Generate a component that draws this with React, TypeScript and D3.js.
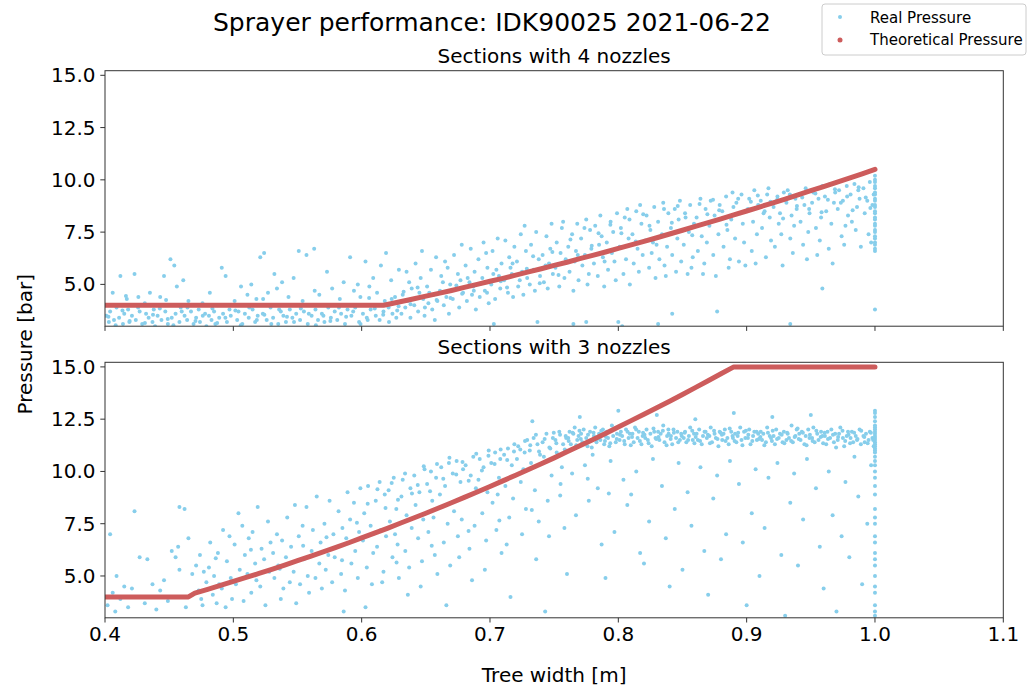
import React from 'react';
import * as d3 from 'd3';

// Real pressure readings, sections with 4 nozzles (tree width [m], pressure [bar])
const realTop: [number, number][] = [
  [0.401,3.5],[0.403,3.2],[0.404,3.7],[0.406,4.6],[0.407,3.3],[0.409,3.9],
  [0.411,3.4],[0.412,5.4],[0.414,3.1],[0.415,3.6],[0.417,4.3],[0.418,3.8],[0.419,3.2],
  [0.421,3.5],[0.423,5.5],[0.424,3.3],[0.426,4.4],[0.427,3.7],[0.429,3.1],
  [0.431,4.1],[0.432,3.6],[0.434,3.4],[0.435,4.6],[0.437,3.2],[0.438,3.8],[0.439,3.0],
  [0.441,3.5],[0.443,4.4],[0.444,3.3],[0.446,5.4],[0.447,3.7],[0.449,3.1],
  [0.451,6.2],[0.452,3.4],[0.454,5.9],[0.455,3.6],[0.456,4.9],[0.458,3.2],[0.459,3.9],
  [0.461,5.2],[0.462,3.5],[0.464,3.3],[0.465,4.2],[0.467,3.7],[0.469,3.1],
  [0.471,3.4],[0.473,3.8],[0.474,3.2],[0.476,4.1],[0.478,3.6],[0.479,3.0],
  [0.481,3.5],[0.483,3.3],[0.485,3.7],[0.486,3.1],[0.488,4.0],[0.489,3.4],
  [0.491,5.8],[0.492,3.6],[0.494,5.4],[0.495,3.2],[0.497,3.8],[0.498,3.5],
  [0.501,4.2],[0.503,3.3],[0.504,3.7],[0.506,4.9],[0.507,3.1],[0.509,3.6],
  [0.511,4.5],[0.512,3.4],[0.514,5.0],[0.515,3.8],[0.517,3.2],[0.518,4.3],[0.519,3.5],
  [0.521,6.3],[0.523,3.6],[0.524,6.5],[0.526,3.3],[0.527,4.6],[0.529,3.9],
  [0.531,3.4],[0.532,5.5],[0.534,4.8],[0.535,3.1],[0.537,3.7],[0.538,5.1],[0.539,3.5],
  [0.541,3.2],[0.543,4.4],[0.544,3.8],[0.546,3.4],[0.547,5.3],[0.549,3.6],
  [0.551,6.6],[0.552,3.3],[0.554,4.2],[0.555,3.7],[0.557,6.4],[0.558,3.1],[0.559,4.0],
  [0.561,3.5],[0.563,6.7],[0.564,3.8],[0.566,3.3],[0.567,4.5],[0.569,3.6],
  [0.571,3.2],[0.573,5.6],[0.574,3.9],[0.576,3.4],[0.577,4.8],[0.579,3.7],
  [0.581,3.3],[0.583,4.3],[0.584,3.6],[0.586,5.1],[0.587,3.1],[0.589,3.8],
  [0.591,6.3],[0.592,3.5],[0.594,4.7],[0.595,3.9],[0.597,5.0],[0.598,3.2],[0.599,4.4],
  [0.601,3.6],[0.603,6.1],[0.604,3.4],[0.606,4.9],[0.607,3.8],[0.609,5.3],
  [0.611,3.5],[0.612,4.6],[0.614,3.3],[0.615,5.9],[0.617,3.7],[0.618,4.2],[0.619,6.5],
  [0.621,3.9],[0.623,5.2],[0.624,3.6],[0.626,4.4],[0.627,3.4],[0.629,5.7],
  [0.631,3.6],[0.632,4.5],[0.634,3.9],[0.635,5.6],[0.636,4.2],[0.638,3.4],[0.639,4.8],[0.637,5.1],
  [0.641,4.0],[0.642,6.0],[0.644,3.7],[0.645,4.6],[0.646,5.3],[0.648,4.3],[0.649,3.5],[0.647,6.6],
  [0.651,4.9],[0.652,4.1],[0.654,5.7],[0.655,3.8],[0.656,4.5],[0.658,6.3],[0.659,4.2],[0.657,3.3],
  [0.661,4.7],[0.662,5.4],[0.664,4.0],[0.665,6.1],[0.666,4.4],[0.668,3.6],[0.669,5.0],[0.667,5.8],
  [0.671,4.3],[0.672,6.4],[0.674,4.8],[0.675,5.5],[0.676,3.9],[0.678,6.9],[0.679,4.6],[0.677,5.2],
  [0.681,5.9],[0.682,4.2],[0.684,5.1],[0.685,6.7],[0.686,4.5],[0.688,5.6],[0.689,3.8],[0.687,4.9],
  [0.691,6.2],[0.692,4.4],[0.694,5.3],[0.695,7.0],[0.696,4.7],[0.698,5.8],[0.699,4.1],[0.697,6.5],
  [0.701,5.0],[0.702,6.6],[0.704,4.3],[0.705,5.7],[0.706,7.2],[0.708,4.8],[0.709,6.0],[0.707,5.4],[0.703,3.1],
  [0.711,5.2],[0.712,7.1],[0.714,4.6],[0.715,6.3],[0.716,5.8],[0.718,4.4],[0.719,6.8],[0.717,5.5],
  [0.721,6.1],[0.722,4.9],[0.724,7.4],[0.725,5.6],[0.726,4.5],[0.728,6.6],[0.729,5.3],[0.727,7.8],
  [0.731,5.0],[0.732,6.9],[0.734,5.7],[0.735,4.7],[0.736,7.5],[0.738,6.2],[0.739,5.4],[0.737,3.2],
  [0.741,6.4],[0.742,5.1],[0.744,7.3],[0.745,4.8],[0.746,6.0],[0.748,7.9],[0.749,5.5],[0.747,6.7],
  [0.751,5.8],[0.752,7.0],[0.754,4.9],[0.755,6.5],[0.756,7.7],[0.758,5.3],[0.759,6.2],[0.757,8.0],
  [0.761,6.8],[0.762,5.6],[0.764,7.4],[0.765,4.7],[0.766,6.1],[0.768,7.9],[0.769,5.2],[0.767,6.6],
  [0.771,7.2],[0.772,5.9],[0.774,6.4],[0.775,8.1],[0.776,5.0],[0.778,7.6],[0.779,6.7],[0.777,5.5],
  [0.781,6.0],[0.782,7.8],[0.784,5.4],[0.785,6.9],[0.786,8.3],[0.788,6.3],[0.789,4.9],[0.787,7.3],
  [0.791,7.0],[0.792,5.7],[0.794,8.0],[0.795,6.5],[0.796,7.5],[0.798,5.2],[0.799,8.4],[0.797,6.1],
  [0.801,6.8],[0.802,7.7],[0.804,5.5],[0.805,8.2],[0.806,6.2],[0.808,7.2],[0.809,5.0],[0.807,8.6],[0.803,3.0],
  [0.811,7.4],[0.812,6.0],[0.814,8.5],[0.815,6.7],[0.816,5.6],[0.818,7.9],[0.819,6.4],[0.817,8.8],
  [0.821,7.1],[0.822,8.3],[0.824,5.8],[0.825,7.6],[0.826,6.5],[0.828,8.7],[0.829,5.3],[0.827,7.0],
  [0.831,8.0],[0.832,6.2],[0.834,7.4],[0.835,8.9],[0.836,5.9],[0.838,6.8],[0.839,8.4],[0.837,5.4],
  [0.841,7.7],[0.842,6.4],[0.844,8.6],[0.845,5.6],[0.846,7.2],[0.848,9.0],[0.849,6.1],[0.847,8.1],
  [0.851,6.9],[0.852,8.4],[0.854,5.5],[0.855,7.5],[0.856,8.8],[0.858,6.3],[0.859,7.9],[0.857,5.8],
  [0.861,8.2],[0.862,6.6],[0.864,9.1],[0.865,7.3],[0.866,5.5],[0.868,8.6],[0.869,7.0],[0.867,6.0],
  [0.871,7.8],[0.872,9.0],[0.874,6.4],[0.875,8.3],[0.876,5.4],[0.878,7.4],[0.879,8.8],[0.877,3.7],
  [0.881,8.5],[0.882,6.8],[0.884,9.2],[0.885,7.6],[0.886,5.8],[0.888,8.1],[0.889,9.4],[0.887,6.2],
  [0.891,7.2],[0.892,8.9],[0.894,6.1],[0.895,8.4],[0.896,9.3],[0.898,7.0],[0.899,5.9],[0.897,7.9],
  [0.901,8.6],[0.902,9.1],[0.904,6.6],[0.905,8.0],[0.906,9.5],[0.908,7.4],[0.909,8.8],[0.907,6.0],
  [0.911,9.0],[0.912,7.7],[0.914,8.5],[0.915,6.3],[0.916,9.3],[0.918,8.2],[0.919,7.1],[0.917,9.6],
  [0.921,8.7],[0.922,6.8],[0.924,9.2],[0.925,7.9],[0.926,8.4],[0.928,5.9],[0.929,9.4],[0.927,7.4],
  [0.931,8.9],[0.932,9.5],[0.934,7.2],[0.935,8.3],[0.936,6.5],[0.938,9.1],[0.939,8.6],[0.937,7.8],
  [0.941,9.3],[0.942,8.0],[0.944,6.9],[0.945,8.8],[0.946,9.6],[0.948,7.5],[0.949,8.4],[0.947,6.2],
  [0.951,8.9],[0.952,9.4],[0.954,7.7],[0.955,6.4],[0.956,9.1],[0.958,8.2],[0.959,9.7],[0.957,7.1],
  [0.961,9.2],[0.962,8.5],[0.964,6.7],[0.965,9.8],[0.966,7.9],[0.968,8.9],[0.969,9.4],[0.967,6.0],
  [0.971,8.6],[0.972,9.5],[0.974,7.3],[0.975,9.0],[0.976,6.9],[0.978,9.7],[0.979,8.3],[0.977,7.8],
  [0.981,9.3],[0.982,8.0],[0.984,9.8],[0.985,7.6],[0.986,8.7],[0.988,9.1],[0.989,6.8],[0.987,9.5],
  [0.991,9.6],[0.992,8.4],[0.994,9.0],[0.995,7.4],[0.996,9.9],[0.998,8.8],[0.999,9.3],[0.997,7.0],
  [0.765,3.1],[0.775,3.2],[0.800,3.2],[0.831,3.1],[0.842,3.6],[0.934,3.1],[0.959,4.8],
  [1.0,3.8],[1.0,6.6],[1.0,6.7],[1.0,6.9],[1.0,7.0],[1.0,7.2],[1.0,7.3],[1.0,7.5],[1.0,7.6],
  [1.0,7.8],[1.0,7.9],[1.0,8.1],[1.0,8.2],[1.0,8.4],[1.0,8.5],[1.0,8.7],[1.0,8.8],[1.0,9.0],
  [1.0,9.1],[1.0,9.3],[1.0,9.4],[1.0,9.6],[1.0,9.7],[1.0,9.9],[1.0,10.0],[1.0,10.2],
];

// more readings where the 4-nozzle cloud is densest
const realTopExtra: [number, number][] = [
  [0.4027,3.45],[0.4083,3.05],[0.4136,3.75],[0.4192,3.25],[0.4258,3.9],[0.4311,3.15],[0.4374,3.55],
  [0.4427,3.85],[0.4489,3.35],[0.4533,3.05],[0.4598,3.7],[0.4643,3.9],[0.4705,3.25],[0.4762,3.5],
  [0.4837,3.85],[0.4874,3.15],[0.4938,3.4],[0.5016,3.75],[0.5058,3.05],[0.5124,3.9],[0.5183,3.3],
  [0.5242,3.55],[0.5296,3.1],[0.5357,3.8],[0.5418,3.45],[0.5473,3.2],[0.5526,3.85],[0.5588,3.6],
  [0.5643,3.05],[0.5702,3.5],[0.5756,3.25],[0.5823,3.9],[0.5879,3.45],[0.5934,3.7],[0.5991,3.1],
  [0.6047,3.3],[0.6102,3.85],[0.6168,3.55],[0.6213,3.2],[0.6277,3.75],
  [0.4163,4.45],[0.4476,4.25],[0.4817,4.6],[0.5232,4.3],[0.5634,4.7],[0.6058,4.35],
  [0.6234,4.3],[0.6288,3.95],[0.6327,4.65],[0.6381,4.05],[0.6436,4.85],[0.6493,3.9],[0.6527,4.6],
  [0.6584,4.25],[0.6633,5.1],[0.6692,4.35],[0.6738,4.95],[0.6783,4.55],[0.6826,5.3],[0.6874,4.7],
  [0.6933,5.05],[0.6977,4.6],[0.7026,5.5],[0.7084,5.15],[0.7133,4.85],[0.7176,6.0],[0.7232,5.2],
  [0.7287,5.75],[0.7336,6.35],[0.7388,5.05],[0.7433,5.9],[0.7486,6.55],[0.7534,5.45],
  [0.7627,7.15],[0.7684,6.4],[0.7736,7.7],[0.7793,6.85],[0.7846,7.45],[0.7893,6.1],[0.7938,7.85],
  [0.8024,7.45],[0.8087,8.1],[0.8136,7.05],[0.8194,8.35],[0.8243,7.8],[0.8298,6.9],[0.8356,8.6],
  [0.8417,7.95],[0.8463,8.75],[0.8524,8.2],[0.8576,7.35],[0.8633,8.85],[0.8694,8.35],[0.8738,9.05],
  [0.8786,8.55],[0.8843,7.85],[0.8897,8.7],[0.8934,9.1],[0.9033,8.95],[0.9087,9.25],[0.9132,8.4],
  [0.9186,8.95],[0.9238,9.05],[0.9284,8.15],[0.9337,9.3],[0.9392,8.75],[0.9433,9.15],[0.9487,8.6],
  [0.9536,9.35],[0.9584,8.45],[0.9633,9.05],[0.9688,9.55],[0.9734,8.9],[0.9783,9.2],[0.9826,8.55],
  [0.9873,9.65],[0.9928,9.15],[0.9964,8.65],
];

// Real pressure readings, sections with 3 nozzles
const realBottom: [number, number][] = [
  [0.402,3.6],[0.404,7.0],[0.406,4.2],[0.408,3.3],[0.409,5.0],[0.412,3.9],[0.415,4.5],[0.418,3.5],
  [0.421,4.4],[0.423,8.1],[0.427,5.9],[0.431,3.7],[0.433,5.8],[0.437,4.6],[0.440,3.4],[0.443,4.3],
  [0.446,4.8],[0.449,3.8],[0.452,6.2],[0.455,5.9],[0.457,6.4],[0.458,5.3],[0.458,8.3],[0.462,8.2],
  [0.463,3.5],[0.465,6.8],[0.468,5.1],
  [0.471,5.5],[0.473,4.3],[0.474,6.0],[0.476,3.6],[0.477,5.2],[0.479,4.7],[0.475,3.9],
  [0.481,5.4],[0.482,6.6],[0.484,4.1],[0.485,5.0],[0.487,3.7],[0.488,6.1],[0.489,4.6],
  [0.491,4.4],[0.492,7.2],[0.494,3.5],[0.495,5.7],[0.497,6.9],[0.498,4.9],[0.499,3.9],
  [0.501,6.5],[0.502,4.6],[0.504,8.0],[0.505,5.3],[0.507,7.4],[0.508,3.8],[0.509,6.0],
  [0.511,5.1],[0.512,6.8],[0.514,4.2],[0.515,7.1],[0.517,5.6],[0.518,4.8],[0.519,8.3],
  [0.521,4.5],[0.522,6.3],[0.524,5.8],[0.525,3.6],[0.527,7.6],[0.528,5.2],[0.529,6.6],
  [0.531,6.1],[0.532,4.9],[0.534,7.0],[0.535,5.5],[0.537,3.9],[0.538,6.7],[0.539,4.4],
  [0.541,5.9],[0.542,7.8],[0.544,4.7],[0.545,6.4],[0.547,5.2],[0.548,8.4],[0.549,3.7],
  [0.551,6.9],[0.552,4.6],[0.554,7.4],[0.555,5.8],[0.557,8.3],[0.558,5.0],[0.559,4.2],
  [0.561,6.2],[0.562,7.2],[0.564,4.9],[0.565,8.8],[0.567,5.6],[0.568,6.6],[0.569,4.4],
  [0.571,7.5],[0.572,5.3],[0.574,6.0],[0.575,8.6],[0.577,4.7],[0.578,7.0],[0.579,5.9],
  [0.581,6.4],[0.582,8.1],[0.584,5.1],[0.585,7.3],[0.587,4.3],[0.588,6.8],[0.589,9.0],[0.586,3.3],
  [0.591,7.7],[0.592,5.6],[0.594,8.5],[0.595,6.2],[0.597,4.9],[0.598,7.1],[0.599,9.2],
  [0.601,6.7],[0.602,8.0],[0.604,5.4],[0.605,9.3],[0.607,7.4],[0.608,4.6],[0.609,6.1],[0.603,3.5],
  [0.611,8.6],[0.612,6.4],[0.614,9.5],[0.615,7.2],[0.617,5.2],[0.618,8.9],[0.619,6.9],[0.616,4.7],
  [0.621,9.1],[0.622,7.6],[0.624,5.9],[0.625,9.7],[0.627,8.2],[0.628,6.5],[0.629,4.9],[0.626,7.0],
  [0.631,8.8],[0.632,9.6],[0.634,6.2],[0.635,7.9],[0.637,5.4],[0.638,9.2],[0.639,7.3],[0.636,4.1],
  [0.641,9.8],[0.642,8.4],[0.644,6.8],[0.645,9.0],[0.647,5.7],[0.648,7.7],[0.649,10.1],[0.646,4.5],
  [0.651,9.4],[0.652,7.1],[0.654,10.0],[0.655,8.6],[0.657,6.0],[0.658,9.7],[0.659,5.1],[0.656,7.8],
  [0.661,8.9],[0.662,10.2],[0.664,6.6],[0.665,9.3],[0.667,7.5],[0.668,10.4],[0.669,5.5],[0.666,3.6],
  [0.671,9.9],[0.672,8.1],[0.674,10.5],[0.675,6.9],[0.677,9.5],[0.678,7.7],[0.679,10.1],[0.676,5.9],
  [0.681,10.3],[0.682,8.8],[0.684,6.3],[0.685,9.8],[0.687,10.7],[0.688,7.4],[0.689,9.2],[0.686,4.8],
  [0.691,9.6],[0.692,10.6],[0.694,8.0],[0.695,10.2],[0.697,6.7],[0.698,9.0],[0.699,11.0],[0.696,5.3],
  [0.701,10.4],[0.702,8.5],[0.704,10.9],[0.705,7.2],[0.707,9.7],[0.708,10.6],[0.709,6.1],[0.706,8.9],
  [0.711,10.8],[0.712,9.3],[0.714,11.1],[0.715,7.8],[0.717,10.3],[0.718,8.7],[0.719,11.3],[0.716,4.0],[0.713,6.5],
  [0.721,10.6],[0.722,11.2],[0.724,9.5],[0.725,7.0],[0.727,10.9],[0.728,8.2],[0.729,11.5],[0.726,10.1],
  [0.731,11.0],[0.732,10.4],[0.734,11.6],[0.735,9.1],[0.737,11.3],[0.738,7.6],[0.739,10.8],[0.736,5.8],[0.733,12.4],
  [0.741,11.4],[0.742,10.7],[0.744,11.8],[0.745,8.6],[0.747,11.1],[0.748,9.8],[0.749,11.6],[0.746,6.9],[0.743,3.3],
  [0.751,11.5],[0.752,10.9],[0.754,11.9],[0.755,9.4],[0.757,11.3],[0.758,7.3],[0.759,11.7],[0.756,10.2],
  [0.761,11.6],[0.762,11.9],[0.763,11.3],[0.765,11.8],[0.766,12.1],[0.768,11.5],[0.769,11.7],[0.764,9.9],[0.767,7.9],[0.760,5.1],
  [0.771,11.8],[0.772,11.4],[0.773,12.0],[0.775,11.6],[0.776,11.2],[0.778,11.9],[0.779,11.5],[0.774,10.3],[0.777,8.6],[0.770,12.6],
  [0.781,11.7],[0.782,12.1],[0.783,11.4],[0.785,11.8],[0.786,11.5],[0.788,12.0],[0.789,11.3],[0.784,9.2],[0.787,6.5],[0.780,10.8],
  [0.791,11.9],[0.792,11.6],[0.793,11.2],[0.795,12.2],[0.796,11.7],[0.798,11.4],[0.799,11.8],[0.794,10.5],[0.797,7.1],[0.790,4.9],
  [0.801,11.5],[0.802,11.9],[0.803,11.7],[0.805,11.3],[0.806,12.0],[0.808,11.6],[0.809,11.8],[0.804,9.6],[0.807,8.4],[0.800,12.9],
  [0.811,11.8],[0.812,11.4],[0.813,12.1],[0.815,11.6],[0.816,11.9],[0.818,11.3],[0.819,11.7],[0.814,10.0],[0.817,6.1],[0.810,8.9],
  [0.821,11.6],[0.822,12.0],[0.823,11.5],[0.825,11.8],[0.826,11.2],[0.828,11.9],[0.829,11.6],[0.824,7.6],[0.827,10.6],[0.820,5.6],
  [0.831,11.9],[0.832,11.5],[0.833,11.8],[0.835,12.2],[0.836,11.4],[0.838,11.7],[0.839,12.0],[0.834,9.3],[0.837,6.8],[0.830,12.7],
  [0.841,11.7],[0.842,11.3],[0.843,12.0],[0.845,11.6],[0.846,11.9],[0.848,11.5],[0.849,11.8],[0.844,8.2],[0.847,10.4],[0.840,4.5],
  [0.851,11.6],[0.852,11.9],[0.853,11.4],[0.855,11.7],[0.856,12.1],[0.858,11.5],[0.859,11.8],[0.854,9.0],[0.857,7.4],[0.850,5.3],
  [0.861,11.8],[0.862,11.5],[0.863,12.0],[0.865,11.3],[0.866,11.7],[0.868,11.9],[0.869,11.6],[0.864,10.2],[0.867,6.2],[0.860,12.5],
  [0.871,11.7],[0.872,12.1],[0.873,11.4],[0.875,11.8],[0.876,11.6],[0.878,11.2],[0.879,11.9],[0.874,8.7],[0.877,9.8],[0.870,4.1],
  [0.881,11.5],[0.882,11.8],[0.883,12.0],[0.885,11.6],[0.886,11.3],[0.888,11.9],[0.889,11.7],[0.884,7.0],[0.887,10.5],[0.880,5.8],
  [0.891,11.8],[0.892,11.4],[0.893,11.7],[0.895,12.1],[0.896,11.5],[0.898,11.9],[0.899,11.6],[0.894,9.4],[0.897,6.6],[0.890,12.8],
  [0.901,11.6],[0.902,12.0],[0.903,11.3],[0.905,11.7],[0.906,11.9],[0.908,11.5],[0.909,11.8],[0.904,8.0],[0.907,10.1],[0.900,3.6],
  [0.911,11.9],[0.912,11.5],[0.913,11.8],[0.915,11.4],[0.916,12.1],[0.918,11.7],[0.919,11.6],[0.914,7.3],[0.917,9.7],[0.910,5.0],
  [0.921,11.7],[0.922,11.3],[0.923,12.0],[0.925,11.6],[0.926,11.8],[0.928,11.4],[0.929,11.9],[0.924,10.4],[0.927,6.0],[0.920,12.6],
  [0.931,11.5],[0.932,11.8],[0.933,11.6],[0.935,12.2],[0.936,11.4],[0.938,11.7],[0.939,12.0],[0.934,8.5],[0.937,9.9],[0.930,3.1],
  [0.941,11.8],[0.942,11.5],[0.943,11.9],[0.945,11.3],[0.946,11.7],[0.948,12.0],[0.949,11.6],[0.944,7.7],[0.947,10.6],[0.940,5.5],
  [0.951,11.6],[0.952,12.1],[0.953,11.4],[0.955,11.8],[0.956,11.5],[0.958,11.9],[0.959,11.7],[0.954,9.2],[0.957,6.4],[0.950,12.7],
  [0.961,11.7],[0.962,11.3],[0.963,11.9],[0.965,11.6],[0.966,12.0],[0.968,11.4],[0.969,11.8],[0.964,10.0],[0.967,7.9],[0.960,4.4],
  [0.971,11.5],[0.972,11.8],[0.973,12.1],[0.975,11.6],[0.976,11.2],[0.978,11.7],[0.979,11.9],[0.974,6.9],[0.977,9.5],[0.970,3.3],
  [0.981,11.6],[0.982,11.9],[0.983,11.4],[0.985,11.7],[0.986,11.5],[0.988,12.0],[0.989,11.3],[0.984,10.7],[0.987,8.8],[0.980,5.9],
  [0.991,11.7],[0.992,11.4],[0.993,11.8],[0.995,11.5],[0.996,11.9],[0.998,11.6],[0.999,11.2],[0.994,7.5],[0.997,10.3],[0.990,4.6],
  [1.0,3.1],[1.0,3.3],[1.0,3.6],[1.0,4.2],[1.0,4.5],[1.0,5.0],[1.0,5.5],[1.0,5.8],[1.0,6.1],[1.0,6.6],
  [1.0,6.9],[1.0,7.5],[1.0,7.8],[1.0,8.2],[1.0,8.9],[1.0,9.3],[1.0,9.7],[1.0,10.0],[1.0,10.3],[1.0,10.5],
  [1.0,10.7],[1.0,10.9],[1.0,11.0],[1.0,11.1],[1.0,11.2],[1.0,11.3],[1.0,11.4],[1.0,11.5],[1.0,11.6],[1.0,11.7],
  [1.0,11.8],[1.0,11.9],[1.0,12.0],[1.0,12.1],[1.0,12.2],[1.0,12.4],[1.0,12.6],[1.0,12.8],[1.0,12.9],
];

// more readings in the 3-nozzle plateau band and the rising edge
const realBottomExtra: [number, number][] = [
  [0.7236,11.05],[0.7273,11.45],[0.7314,11.25],[0.7358,11.75],[0.7382,10.95],
  [0.7426,11.55],[0.7463,11.15],[0.7497,11.85],[0.7517,11.35],[0.7546,11.75],[0.7583,11.05],[0.7594,11.6],
  [0.7613,11.45],[0.7644,11.85],[0.7672,11.25],[0.7697,11.95],[0.7708,11.55],[0.7738,11.35],[0.7764,11.75],[0.7793,11.15],
  [0.7807,11.85],[0.7834,11.55],[0.7867,11.95],[0.7896,11.45],[0.7904,11.65],[0.7937,11.35],[0.7973,12.05],[0.7988,11.55],
  [0.8013,11.75],[0.8046,11.45],[0.8072,11.9],[0.8097,11.25],[0.8107,11.65],[0.8139,12.0],[0.8168,11.45],[0.8193,11.85],
  [0.8204,11.75],[0.8236,11.35],[0.8274,12.05],[0.8296,11.55],[0.8313,11.65],[0.8347,11.95],[0.8376,11.25],[0.8392,11.8],
  [0.8408,11.55],[0.8433,11.85],[0.8467,11.4],[0.8494,11.7],[0.8517,11.85],[0.8544,11.5],[0.8576,11.95],[0.8593,11.35],
  [0.8603,11.65],[0.8637,11.45],[0.8672,11.9],[0.8698,11.75],[0.8714,11.35],[0.8746,11.95],[0.8773,11.55],[0.8797,11.85],
  [0.8807,11.75],[0.8836,11.45],[0.8868,12.05],[0.8893,11.6],[0.8906,11.45],[0.8934,11.85],[0.8967,11.25],[0.8994,11.95],
  [0.9013,11.75],[0.9044,11.45],[0.9078,11.9],[0.9096,11.55],[0.9107,11.65],[0.9138,11.25],[0.9166,11.85],[0.9197,11.45],
  [0.9203,11.95],[0.9237,11.55],[0.9273,11.75],[0.9294,11.35],[0.9316,11.85],[0.9347,11.45],[0.9374,11.65],[0.9397,12.05],
  [0.9406,11.55],[0.9438,11.85],[0.9467,11.25],[0.9493,11.75],[0.9514,11.45],[0.9543,11.95],[0.9577,11.65],[0.9596,11.35],
  [0.9608,11.85],[0.9634,11.55],[0.9673,11.75],[0.9697,11.15],[0.9713,11.65],[0.9747,11.95],[0.9768,11.45],[0.9794,11.75],
  [0.9806,11.35],[0.9838,11.85],[0.9864,11.55],[0.9893,11.95],[0.9917,11.65],[0.9943,11.35],[0.9968,11.85],[0.9986,11.5],
  [0.6047,8.45],[0.6123,9.15],[0.6186,8.25],[0.6234,9.45],[0.6283,8.65],[0.6338,9.9],[0.6392,8.95],[0.6437,9.35],
  [0.6484,10.25],[0.6533,9.05],[0.6587,10.35],[0.6636,9.65],[0.6684,10.65],[0.6737,9.85],[0.6786,10.45],[0.6834,9.55],
  [0.6893,10.85],[0.6937,10.05],[0.6988,10.75],[0.7036,10.35],[0.7083,11.05],[0.7134,10.55],[0.7187,10.95],
  [0.6272,5.65],[0.6546,6.45],[0.6833,7.15],[0.7073,7.65],[0.7326,8.15],[0.7547,8.85],[0.7762,9.65],[0.7926,8.95],
  [0.4863,5.85],[0.5137,6.25],[0.5362,5.35],[0.5544,6.45],[0.5726,6.85],[0.5847,5.75],[0.5963,7.55],
];

// Theoretical pressure
const theoTop: [number, number][] = [
  [0.40,4.0],[0.45,4.0],[0.50,4.0],[0.55,4.0],[0.60,4.0],[0.617,4.0],
  [0.62,4.04],[0.63,4.17],[0.64,4.30],[0.65,4.44],[0.66,4.57],[0.67,4.71],[0.68,4.86],[0.69,5.00],
  [0.70,5.15],[0.71,5.29],[0.72,5.44],[0.73,5.60],[0.74,5.75],[0.75,5.91],[0.76,6.06],[0.77,6.23],
  [0.78,6.39],[0.79,6.55],[0.80,6.72],[0.81,6.89],[0.82,7.06],[0.83,7.23],[0.84,7.41],[0.85,7.59],
  [0.86,7.77],[0.87,7.95],[0.88,8.13],[0.89,8.32],[0.90,8.51],[0.91,8.70],[0.92,8.89],[0.93,9.08],
  [0.94,9.28],[0.95,9.48],[0.96,9.68],[0.97,9.88],[0.98,10.08],[0.99,10.29],[1.00,10.5],
];

const theoBottom: [number, number][] = [
  [0.40,4.0],[0.43,4.0],[0.465,4.0],[0.47,4.18],[0.48,4.36],[0.49,4.55],[0.50,4.74],[0.51,4.93],
  [0.52,5.12],[0.53,5.32],[0.54,5.52],[0.55,5.73],[0.56,5.94],[0.57,6.15],[0.58,6.37],[0.59,6.59],
  [0.60,6.82],[0.61,7.05],[0.62,7.28],[0.63,7.52],[0.64,7.76],[0.65,8.00],[0.66,8.25],[0.67,8.50],
  [0.68,8.76],[0.69,9.02],[0.70,9.28],[0.71,9.55],[0.72,9.82],[0.73,10.09],[0.74,10.37],[0.75,10.65],
  [0.76,10.94],[0.77,11.23],[0.78,11.52],[0.79,11.82],[0.80,12.12],[0.81,12.43],[0.82,12.74],
  [0.83,13.05],[0.84,13.36],[0.85,13.68],[0.86,14.01],[0.87,14.34],[0.88,14.67],[0.89,15.0],
  [0.95,15.0],[1.00,15.0],
];

const xTicks = [0.4, 0.5, 0.6, 0.7, 0.8, 0.9, 1.0, 1.1];
const yTicks = [5.0, 7.5, 10.0, 12.5, 15.0];
const panelTitles = ['Sections with 4 nozzles', 'Sections with 3 nozzles'];

const BLUE = '#87CEEB';
const RED = '#CD5C5C';
const FONT = '"DejaVu Sans", sans-serif';

const W = 1028, H = 688;
const left = 105, right = 1003.3;
const panelTops = [70.7, 362.3];
const panelH = 255.5;

const x = d3.scaleLinear().domain([0.4, 1.1]).range([left, right]);

function Panel({ idx, real, theo }: { idx: number; real: [number, number][]; theo: [number, number][] }) {
  const top = panelTops[idx];
  const y = d3.scaleLinear().domain([3, 15.22]).range([top + panelH, top]);
  const line = d3.line<[number, number]>().x(d => x(d[0])).y(d => y(d[1]));
  const clipId = `clip-${idx}`;
  const last = idx === panelTops.length - 1;
  return (
    <g>
      <defs>
        <clipPath id={clipId}>
          <rect x={left} y={top} width={right - left} height={panelH} />
        </clipPath>
      </defs>
      <text x={(left + right) / 2} y={top - 8} textAnchor="middle" fontSize={20} fontFamily={FONT}>
        {panelTitles[idx]}
      </text>
      <g clipPath={`url(#${clipId})`}>
        {real.map((d, i) => (
          <circle key={i} cx={x(d[0])} cy={y(d[1])} r={2} fill={BLUE} />
        ))}
        <path d={line(theo) || ''} fill="none" stroke={RED} strokeWidth={5} strokeLinecap="round" strokeLinejoin="round" />
      </g>
      <rect x={left} y={top} width={right - left} height={panelH} fill="none" stroke="#333" strokeWidth={1} />
      {yTicks.map(t => (
        <g key={t}>
          <line x1={left} x2={left - 4.7} y1={y(t)} y2={y(t)} stroke="#333" />
          <text x={left - 9.5} y={y(t) + 7} textAnchor="end" fontSize={20} fontFamily={FONT}>
            {t.toFixed(1)}
          </text>
        </g>
      ))}
      {xTicks.map(t => (
        <g key={t}>
          <line x1={x(t)} x2={x(t)} y1={top + panelH} y2={top + panelH + 4.7} stroke="#333" />
          {last && (
            <text x={x(t)} y={top + panelH + 23} textAnchor="middle" fontSize={20} fontFamily={FONT}>
              {t.toFixed(1)}
            </text>
          )}
        </g>
      ))}
    </g>
  );
}

export default function App() {
  return (
    <svg width={W} height={H} style={{ position: 'absolute', left: 0, top: 0, background: '#fff' }}>
      <rect width={W} height={H} fill="#fff" />
      <text x={492} y={31} textAnchor="middle" fontSize={25} fontFamily={FONT}>
        Sprayer performance: IDK90025 2021-06-22
      </text>
      <Panel idx={0} real={[...realTop, ...realTopExtra]} theo={theoTop} />
      <Panel idx={1} real={[...realBottom, ...realBottomExtra]} theo={theoBottom} />
      <text x={(left + right) / 2} y={682} textAnchor="middle" fontSize={20} fontFamily={FONT}>
        Tree width [m]
      </text>
      <text transform={`translate(32,${(panelTops[0] + panelTops[1] + panelH) / 2}) rotate(-90)`} textAnchor="middle" fontSize={20} fontFamily={FONT}>
        Pressure [bar]
      </text>
      <g>
        <rect x={822} y={4} width={204} height={51} rx={3} fill="#fff" fillOpacity={0.8} stroke="#ccc" />
        <circle cx={840} cy={17} r={2} fill={BLUE} />
        <text x={870} y={22.5} fontSize={15} fontFamily={FONT}>Real Pressure</text>
        <circle cx={840} cy={40} r={2.5} fill={RED} />
        <text x={870} y={44.5} fontSize={15} fontFamily={FONT}>Theoretical Pressure</text>
      </g>
    </svg>
  );
}
